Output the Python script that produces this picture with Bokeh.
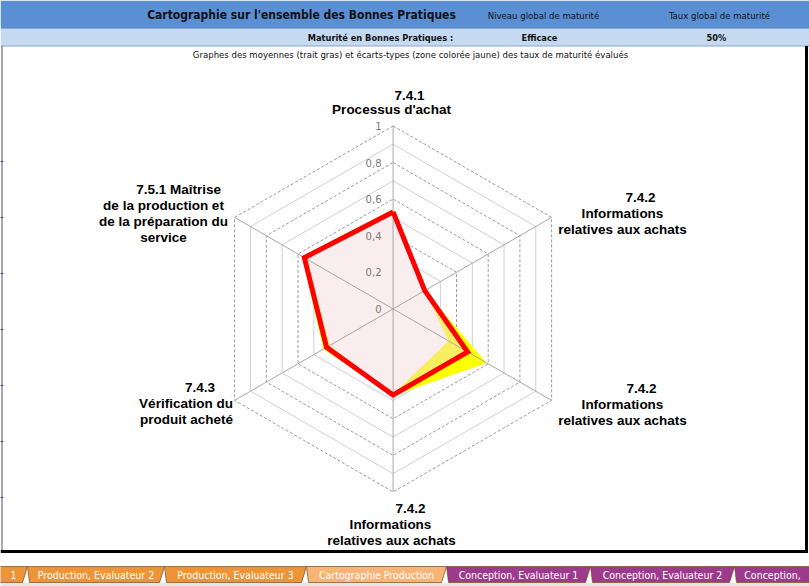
import numpy as np
from bokeh.plotting import figure
from bokeh.models import Range1d
from bokeh.core.properties import value
from bokeh.embed import file_html
from bokeh.resources import INLINE

# ---------------- data ----------------
axis_labels = [
    ["7.4.1", "Processus d'achat"],
    ["7.4.2", "Informations", "relatives aux achats"],
    ["7.4.2", "Informations", "relatives aux achats"],
    ["7.4.2", "Informations", "relatives aux achats"],
    ["7.4.3", "Vérification du", "produit acheté"],
    ["7.5.1  Maîtrise", "de la production et", "de la préparation du", "service"],
]
mean_vals = [0.53, 0.20, 0.47, 0.47, 0.42, 0.56]
std_vals = [0.015, 0.0, 0.12, 0.005, 0.02, 0.015]
tick_values = [0, 0.2, 0.4, 0.6, 0.8, 1.0]
tick_labels = ["0", "0,2", "0,4", "0,6", "0,8", "1"]
ring_values = [0.1, 0.2, 0.3, 0.4, 0.5, 0.6, 0.7, 0.8, 0.9, 1.0]

header_title = "Cartographie sur l'ensemble des Bonnes Pratiques"
header_col1 = "Niveau global de maturité"
header_col2 = "Taux global de maturité"
row2_label = "Maturité en Bonnes Pratiques :"
row2_level = "Efficace"
row2_rate = "50%"
subtitle = "Graphes des moyennes (trait gras) et écarts-types (zone colorée jaune) des taux de maturité évalués"

tab_names = ["1", "Production, Evaluateur 2", "Production, Evaluateur 3",
             "Cartographie Production", "Conception, Evaluateur 1", "Conception, Evaluateur 2",
             "Conception,"]
tab_colors = ["#EE9438", "#EE9438", "#EE9438", "#F6B477", "#9C3A8E", "#9C3A8E", "#9C3A8E"]

# ---------------- layout helpers ----------------
W, H = 809, 586
CX, CY, R = 392.6, 308.4, 183.0


def X(px):
    return (px - CX) / R


def Y(py):
    return (CY - py) / R


n = len(mean_vals)
theta = np.deg2rad(90 - 360.0 * np.arange(n) / n)
cos_t, sin_t = np.cos(theta), np.sin(theta)


def poly(vals):
    v = np.asarray(vals, dtype=float)
    return list(v * cos_t), list(v * sin_t)


p = figure(width=W, height=H, x_range=Range1d(X(0), X(W)), y_range=Range1d(Y(H), Y(0)),
           output_backend="svg", toolbar_location=None, min_border=0,
           x_axis_location=None, y_axis_location=None, outline_line_color=None,
           background_fill_color="white", border_fill_color="white")
p.grid.visible = False

NARROW = value("'DejaVu Sans Condensed', 'Liberation Sans'")
SANS = value("Liberation Sans")

# ---------------- header ----------------
p.quad(left=X(0), right=X(W), top=Y(0), bottom=Y(27.5), fill_color="#5B8FD3", line_color=None)
p.quad(left=X(0), right=X(W), top=Y(28.5), bottom=Y(45.5), fill_color="#C5D9F1", line_color=None)
p.segment(x0=[X(0), X(0)], y0=[Y(28), Y(45.5)], x1=[X(W), X(W)], y1=[Y(28), Y(45.5)],
          line_color="#8AA6CF", line_width=1)
p.text(x=[X(301)], y=[Y(14)], text=[header_title], text_font=NARROW, text_font_style="bold",
       text_font_size="12px", text_align="center", text_baseline="middle", text_color="#111111")
p.text(x=[X(543), X(719)], y=[Y(15), Y(15)], text=[header_col1, header_col2], text_font=NARROW,
       text_font_size="9.5px", text_align="center", text_baseline="middle", text_color="#111111")
p.text(x=[X(380), X(539), X(716)], y=[Y(37)] * 3, text=[row2_label, row2_level, row2_rate],
       text_font=NARROW, text_font_style="bold", text_font_size="9.2px",
       text_align="center", text_baseline="middle", text_color="#111111")
p.text(x=[X(410)], y=[Y(53.5)], text=[subtitle], text_font=NARROW, text_font_size="9.5px",
       text_align="center", text_baseline="middle", text_color="#111111")

# ---------------- radar grid ----------------
for k, rv in enumerate(ring_values):
    xs, ys = poly([rv] * n)
    xs.append(xs[0]); ys.append(ys[0])
    if (k + 1) % 2 == 0:
        p.line(xs, ys, line_color="#9A9A9A", line_width=1, line_dash="3 2")
    else:
        p.line(xs, ys, line_color="#D0D0D0", line_width=1)

# ---------------- series ----------------
upper = [m + s for m, s in zip(mean_vals, std_vals)]
lower = [m - s for m, s in zip(mean_vals, std_vals)]
ux, uy = poly(upper)
lx, ly = poly(lower)
mx, my = poly(mean_vals)
p.patch(ux, uy, fill_color="#FFFF00", line_color=None)
p.patch(lx, ly, fill_color="#FFFFFF", line_color=None)
p.patch(mx, my, fill_color="#F2D8D8", fill_alpha=0.45, line_color=None)

# spokes
p.segment(x0=[0] * n, y0=[0] * n, x1=list(cos_t), y1=list(sin_t), line_color="#A8A8A8", line_width=1)

mxc, myc = mx + [mx[0]], my + [my[0]]
p.line(mxc, myc, line_color="#FF0000", line_width=5, line_join="miter")

# tick labels
p.text(x=[X(381)] * len(tick_values), y=list(tick_values), text=tick_labels,
       text_font=value("DejaVu Sans"), text_font_size="10px", text_color="#7A7A7A",
       text_align="right", text_baseline="middle")

# ---------------- axis labels ----------------
label_pos = [
    [(409, 95), (391, 108.5)],
    [(640, 197), (622, 213), (622, 229)],
    [(641, 388), (622, 404), (622, 420)],
    [(410, 508), (390, 524), (391, 540)],
    [(199.5, 387), (185.5, 403), (186, 419)],
    [(180, 189), (163, 205), (163, 221), (163, 237)],
]
lx_, ly_, lt_ = [], [], []
for lines, pos in zip(axis_labels, label_pos):
    for t, (px, py) in zip(lines, pos):
        lx_.append(X(px)); ly_.append(Y(py)); lt_.append(t)
p.text(x=lx_, y=ly_, text=lt_, text_font=SANS, text_font_style="bold", text_font_size="13.5px",
       text_align="center", text_baseline="middle", text_color="#000000")

# ---------------- sheet frame ----------------
p.quad(left=X(0), right=X(W), top=Y(552.5), bottom=Y(H), fill_color="white", line_color=None)
p.segment(x0=[X(1.5)], y0=[Y(45.5)], x1=[X(1.5)], y1=[Y(550)], line_color="#8C8C8C", line_width=1.5)
p.segment(x0=[X(0)], y0=[Y(551)], x1=[X(807.5)], y1=[Y(551)], line_color="#000000", line_width=3)
p.segment(x0=[X(806)], y0=[Y(45.5)], x1=[X(806)], y1=[Y(552.5)], line_color="#000000", line_width=3)
row_marks = [161, 217, 273, 329, 385, 441, 497]
p.segment(x0=[X(0)] * len(row_marks), y0=[Y(v) for v in row_marks],
          x1=[X(3)] * len(row_marks), y1=[Y(v) for v in row_marks], line_color="#3A3AB0", line_width=1)

# ---------------- sheet tabs ----------------
tab_edges = [-20, 27, 164, 306, 446, 590, 734, 880]
tab_text_x = [13, 95.5, 235, 376, 518, 662, 772]
p.quad(left=X(0), right=X(W), top=Y(582), bottom=Y(H), fill_color="#E6E6E6", line_color=None)
txs, tys = [], []
for i, c in enumerate(tab_colors):
    a, b = tab_edges[i], tab_edges[i + 1]
    txs.append([X(a), X(b), X(b - 5), X(a + 2)])
    tys.append([Y(566), Y(566), Y(582), Y(582)])
p.patches(txs, tys, fill_color=tab_colors, line_color="#7A4A20", line_width=0.7)
p.text(x=[X(v) for v in tab_text_x], y=[Y(574.5)] * len(tab_names), text=tab_names,
       text_font=NARROW, text_font_size="10.5px",
       text_align="center", text_baseline="middle", text_color="#FFFFFF")

open("out.html", "w").write(file_html(p, INLINE))
